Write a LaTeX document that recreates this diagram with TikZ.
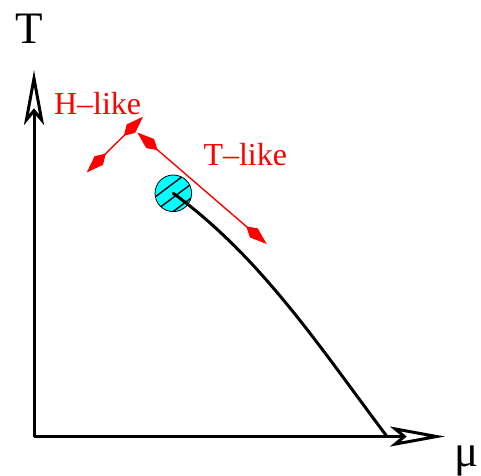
\documentclass[tikz,border=0pt]{standalone}
\usepackage{fontspec}
\setmainfont{Liberation Serif}
\usetikzlibrary{arrows.meta}
\definecolor{cpfill}{RGB}{0,255,255}
\begin{document}
\begin{tikzpicture}[x=1pt,y=-1pt,line width=3pt,
 line cap=butt,line join=miter,font=\fontsize{32}{38}\selectfont,
 axis/.style={-{Stealth[open,length=55pt,width=20pt,inset=12pt]}},
 dirline/.style={red,line width=1.4pt,
  {Kite[length=27pt,width=12pt,inset=10pt]}-{Kite[length=27pt,width=12pt,inset=10pt]}},
 lab/.style={inner sep=0pt,anchor=base west}]
\useasboundingbox (0,0) rectangle (481,475);
% axes: T up, mu to the right
\coordinate (O) at (34,436.5);
\coordinate (Ttip) at (34,70);
\coordinate (mutip) at (445,436.5);
\draw[axis] (O) -- (Ttip);
\draw[axis] (O) -- (mutip);
\node[inner sep=0pt,anchor=base,font=\fontsize{45}{50}\selectfont] (Tlab) at (29,43) {T};
\node[lab,font=\fontsize{45}{50}\selectfont] (mulab) at (453,466) {μ};
% critical point with the transition line running down to the mu axis
\coordinate (cp) at (173.3,193.3);
\coordinate (muend) at (387,436.5);
\draw[fill=cpfill,line width=.8pt] (cp) circle[radius=18.3];
\begin{scope}
 \clip (cp) circle[radius=18.3];
 \foreach \o in {-8,3.3,14.5}
  \draw[line width=1.4pt,shift={(cp)}]
   ({0.6*\o-0.8*30},{0.8*\o+0.6*30}) -- ({0.6*\o+0.8*30},{0.8*\o-0.6*30});
\end{scope}
\draw[line cap=round] (cp) .. controls (262,258) and (321,349) .. (muend);
% directions of approach
\coordinate (h1) at (86.7,172.5);
\coordinate (h2) at (143,116.7);
\coordinate (t1) at (137.3,132.5);
\coordinate (t2) at (266.7,244);
\draw[dirline] (h1) -- (h2);
\draw[dirline] (t1) -- (t2);
\node[lab,red] (Hlike) at (52.5,114.3) {H–like};
\node[lab,red] (Tlike) at (202,165) {T–like};
\end{tikzpicture}
\end{document}
